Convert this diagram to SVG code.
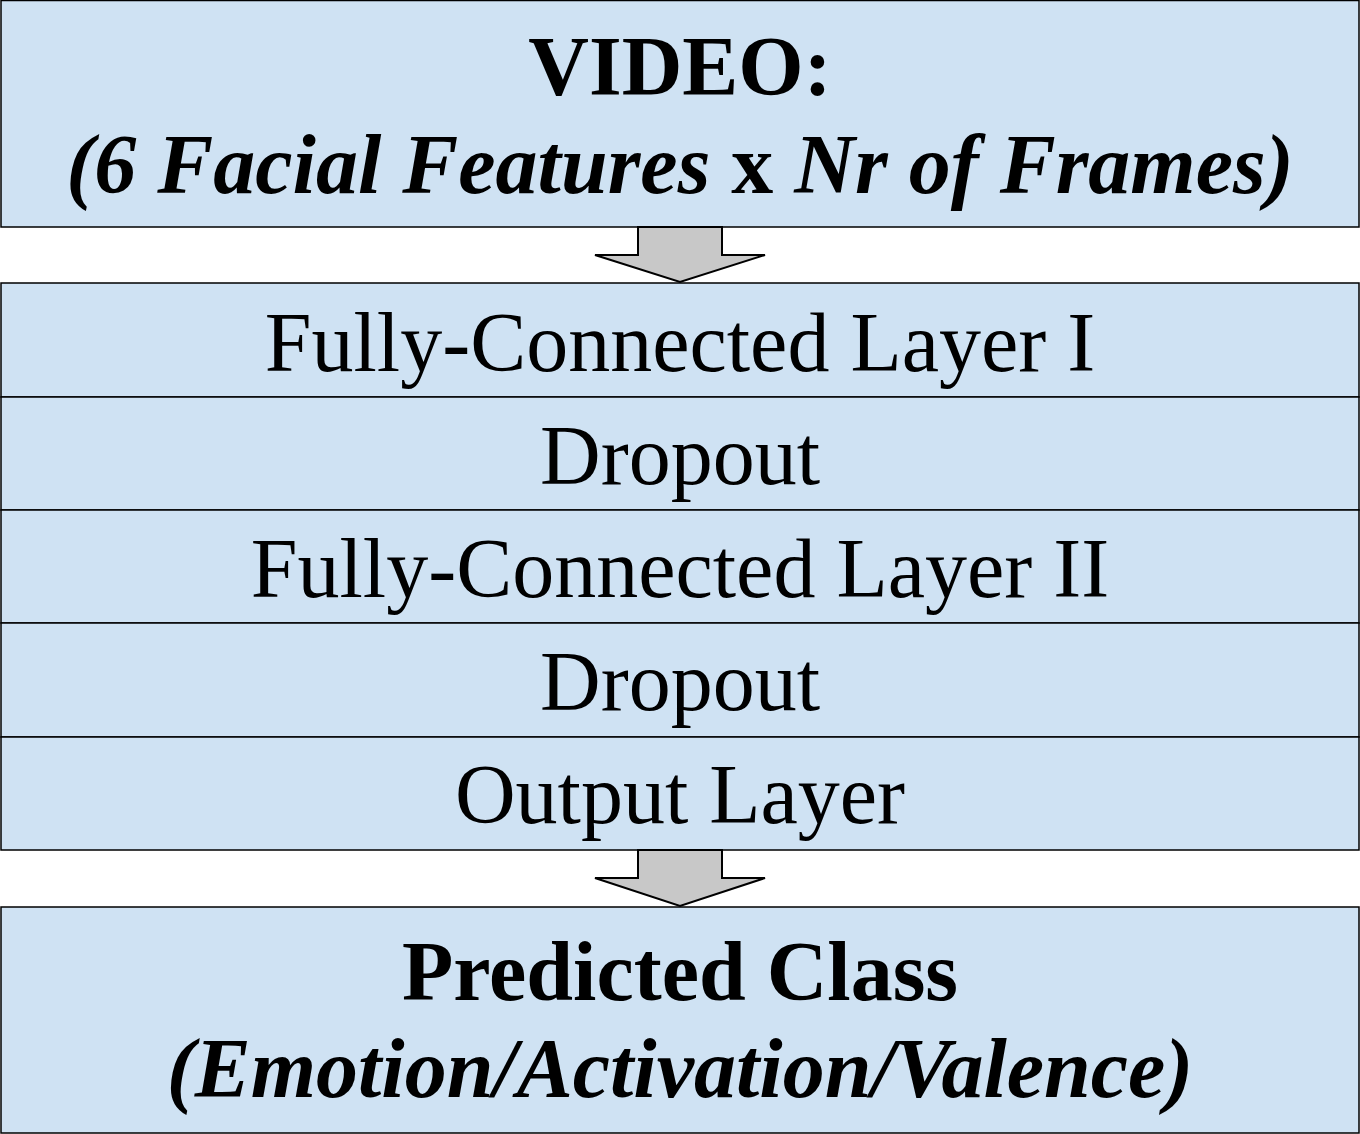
<svg xmlns="http://www.w3.org/2000/svg" width="1360" height="1134" viewBox="0 0 1360 1134">
<style>
.box{fill:#cfe2f3;stroke:#000;stroke-width:1.5}
.arr{fill:#c8c8c8;stroke:#000;stroke-width:2;stroke-linejoin:miter}
text{font-family:"Liberation Serif","Times New Roman",serif;fill:#000;text-anchor:middle}
.r{font-size:84px}
.b{font-size:84px;font-weight:bold}
.bi{font-size:84px;font-weight:bold;font-style:italic}
</style>
<rect width="1360" height="1134" fill="#fff"/>
<g id="video">
<rect class="box" x="1" y="0.5" width="1358" height="226.5"/>
<text class="b" x="680" y="95">VIDEO:</text>
<text class="bi" x="680" y="193">(6 Facial Features <tspan font-style="normal">x</tspan> Nr of Frames)</text>
</g>
<g id="fc1">
<rect class="box" x="1" y="283" width="1358" height="114"/>
<text class="r" x="680" y="371">Fully-Connected Layer I</text>
</g>
<g id="drop1">
<rect class="box" x="1" y="397" width="1358" height="113"/>
<text class="r" x="680" y="484">Dropout</text>
</g>
<g id="fc2">
<rect class="box" x="1" y="510" width="1358" height="113"/>
<text class="r" x="680" y="597">Fully-Connected Layer II</text>
</g>
<g id="drop2">
<rect class="box" x="1" y="623" width="1358" height="114"/>
<text class="r" x="680" y="710">Dropout</text>
</g>
<g id="out">
<rect class="box" x="1" y="737" width="1358" height="113"/>
<text class="r" x="680" y="823">Output Layer</text>
</g>
<g id="pred">
<rect class="box" x="1" y="907" width="1358" height="226"/>
<text class="b" x="680" y="1000">Predicted Class</text>
<text class="bi" x="680" y="1097">(Emotion/Activation/Valence)</text>
</g>
<g id="connectors">
<polygon class="arr" points="638,227 722,227 722,255 765,255 680,282 595,255 638,255"/>
<polygon class="arr" points="638,850 722,850 722,878 765,878 680,906 595,878 638,878"/>
</g>
</svg>
